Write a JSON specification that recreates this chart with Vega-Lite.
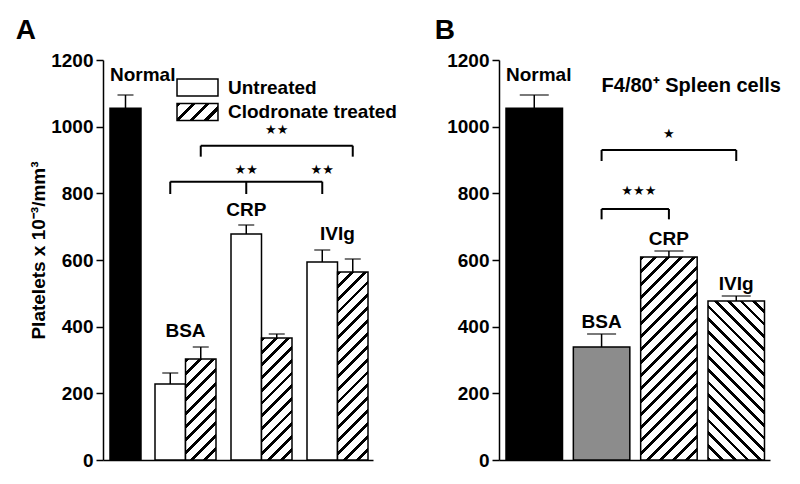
{
  "$schema": "https://vega.github.io/schema/vega-lite/v6.json",
  "padding": {"left": 15, "top": 17, "right": 5, "bottom": 5},
  "bounds": "flush",
  "spacing": 126,
  "config": {
    "view": {"stroke": null},
    "font": "Liberation Sans",
    "axis": {"domainColor": "black", "domainWidth": 1.5, "tickColor": "black", "tickWidth": 1.5, "tickSize": 7, "labelFontSize": 19, "labelFontWeight": "bold", "labelColor": "black", "labelPadding": 3, "grid": false, "titleFontSize": 19, "titleFontWeight": "bold", "titleColor": "black"},
    "legend": {"padding": 0, "symbolType": "M-2.41,-1H2.41V1H-2.41Z", "symbolSize": 289, "symbolStrokeWidth": 1.5, "labelFontSize": 19, "labelFontWeight": "bold", "labelColor": "black", "labelOffset": 21, "labelLimit": 400},
    "title": {"fontSize": 28, "fontWeight": "bold", "color": "black", "anchor": "start", "frame": "bounds"},
    "text": {"color": "black"}
  },
  "datasets": {
    "a": [
      {"group": "Normal", "treatment": "Normal", "value": 1055, "upper": 1095},
      {"group": "BSA", "treatment": "Untreated", "value": 228, "upper": 261},
      {"group": "BSA", "treatment": "Clodronate treated", "value": 303, "upper": 339},
      {"group": "CRP", "treatment": "Untreated", "value": 678, "upper": 705},
      {"group": "CRP", "treatment": "Clodronate treated", "value": 366, "upper": 378},
      {"group": "IVIg", "treatment": "Untreated", "value": 594, "upper": 630},
      {"group": "IVIg", "treatment": "Clodronate treated", "value": 564, "upper": 603}
    ],
    "b": [
      {"group": "Normal", "value": 1055, "upper": 1095},
      {"group": "BSA", "value": 339, "upper": 378},
      {"group": "CRP", "value": 609, "upper": 627},
      {"group": "IVIg", "value": 477, "upper": 492}
    ],
    "aBrackets": [
      {"cmp": "a1", "group": "BSA", "treatment": "Untreated", "level": 835, "foot": 798},
      {"cmp": "a1", "group": "CRP", "treatment": "Untreated", "level": 835, "foot": 798},
      {"cmp": "a1", "group": "IVIg", "treatment": "Untreated", "level": 835, "foot": 798},
      {"cmp": "a2", "group": "BSA", "treatment": "Clodronate treated", "level": 943, "foot": 910},
      {"cmp": "a2", "group": "IVIg", "treatment": "Clodronate treated", "level": 943, "foot": 910}
    ],
    "aStars": [
      {"group": "CRP", "treatment": "Clodronate treated", "stars": "★★", "at": 990},
      {"group": "CRP", "treatment": "Untreated", "stars": "★★", "at": 870},
      {"group": "IVIg", "treatment": "Untreated", "stars": "★★", "at": 870}
    ],
    "bBrackets": [
      {"cmp": "b1", "group": "BSA", "level": 753, "foot": 722},
      {"cmp": "b1", "group": "CRP", "level": 753, "foot": 722},
      {"cmp": "b2", "group": "BSA", "level": 930, "foot": 897},
      {"cmp": "b2", "group": "IVIg", "level": 930, "foot": 897}
    ],
    "bStars": [
      {"group": "CRP", "stars": "★", "at": 978},
      {"group": "BSA", "stars": "★★★", "at": 807}
    ]
  },
  "hconcat": [
    {
      "width": 270, "height": 400,
      "title": {"text": "A", "dx": -14, "offset": 6},
      "resolve": {"scale": {"x": "independent", "xOffset": "independent", "opacity": "independent"}, "legend": {"opacity": "independent"}},
      "layer": [
        {
          "data": {"name": "a"},
          "transform": [{"filter": "datum.group === 'Normal'"}],
          "encoding": {
            "x": {"field": "group", "type": "nominal", "scale": {"domain": ["Normal", "BSA", "CRP", "IVIg"], "paddingInner": 0.5, "paddingOuter": 0.4274, "align": 0.132}, "axis": null}
          },
          "layer": [
            {"mark": {"type": "rule", "color": "black", "strokeWidth": 1.5},
             "encoding": {"y": {"field": "value", "type": "quantitative", "scale": {"domain": [0, 1200], "nice": false}, "axis": {"values": [0, 200, 400, 600, 800, 1000, 1200], "format": "d", "title": "Platelets x 10⁻³/mm³", "titlePadding": 2, "titleY": 190}}, "y2": {"field": "upper"}}},
            {"mark": {"type": "tick", "orient": "horizontal", "size": 16, "thickness": 1.5, "color": "black"},
             "encoding": {"y": {"field": "upper", "type": "quantitative"}}},
            {"mark": {"type": "bar", "fill": "black", "stroke": "black", "strokeWidth": 1.5},
             "encoding": {"y": {"field": "value", "type": "quantitative"}}},
            {"mark": {"type": "text", "align": "left", "baseline": "alphabetic", "dy": -14, "fontSize": 19, "fontWeight": "bold"},
             "encoding": {"x": {"field": "group", "type": "nominal", "bandPosition": 0, "axis": null}, "y": {"field": "upper", "type": "quantitative"}, "text": {"field": "group"}}},
            {"transform": [{"filter": "false"}],
             "mark": {"type": "bar", "stroke": "black", "strokeWidth": 1.5, "fill": {"gradient": "linear", "x1": 0, "y1": 0, "x2": 1.2071, "y2": 0.5005, "stops": [
                   {"offset": 0, "color": "#fff"}, {"offset": 1, "color": "#fff"}]}},
             "encoding": {
               "y": {"field": "value", "type": "quantitative"},
               "opacity": {"field": "treatment", "type": "nominal", "scale": {"domain": ["Untreated"], "range": [1]},
                 "legend": {"orient": "none", "legendX": 85, "legendY": 18, "title": null, "symbolType": "M-2.41,-1H2.41V1H-2.41Z", "symbolSize": 289}}
             }}
          ]
        },
        {
          "data": {"name": "a"},
          "encoding": {"x": {"field": "group", "type": "nominal", "scale": {"domain": ["BSA", "CRP", "IVIg"], "paddingInner": 0.1974, "paddingOuter": 0.375, "align": 0.9123}, "axis": {"title": null, "labels": false, "ticks": false}}},
          "layer": [
            {"transform": [{"filter": "datum.group !== 'Normal'"}],
             "mark": {"type": "rule", "color": "black", "strokeWidth": 1.5},
             "encoding": {"xOffset": {"field": "treatment", "type": "nominal", "scale": {"domain": ["Untreated", "Clodronate treated"], "paddingInner": 0, "paddingOuter": 0}}, "y": {"field": "value", "type": "quantitative"}, "y2": {"field": "upper"}}},
            {"transform": [{"filter": "datum.group !== 'Normal'"}],
             "mark": {"type": "tick", "orient": "horizontal", "size": 16, "thickness": 1.5, "color": "black"},
             "encoding": {"xOffset": {"field": "treatment", "type": "nominal"}, "y": {"field": "upper", "type": "quantitative"}}},
            {"transform": [{"filter": "datum.treatment === 'Untreated'"}],
             "mark": {"type": "bar", "fill": "white", "stroke": "black", "strokeWidth": 1.5},
             "encoding": {"xOffset": {"field": "treatment", "type": "nominal"}, "y": {"field": "value", "type": "quantitative"}}},
            {"transform": [{"filter": "false"}],
             "mark": {"type": "bar", "stroke": "black", "strokeWidth": 1.5, "fill": {"gradient": "linear", "x1": 0, "y1": 0, "x2": 1.2071, "y2": 0.5005, "stops": [
                   {"offset": 0, "color": "#000"}, {"offset": 0.075, "color": "#000"}, {"offset": 0.075, "color": "#fff"}, {"offset": 0.25, "color": "#fff"},
                   {"offset": 0.25, "color": "#000"}, {"offset": 0.325, "color": "#000"}, {"offset": 0.325, "color": "#fff"}, {"offset": 0.5, "color": "#fff"},
                   {"offset": 0.5, "color": "#000"}, {"offset": 0.575, "color": "#000"}, {"offset": 0.575, "color": "#fff"}, {"offset": 0.75, "color": "#fff"},
                   {"offset": 0.75, "color": "#000"}, {"offset": 0.825, "color": "#000"}, {"offset": 0.825, "color": "#fff"}, {"offset": 1, "color": "#fff"}]}},
             "encoding": {
               "xOffset": {"field": "treatment", "type": "nominal"},
               "y": {"field": "value", "type": "quantitative"},
               "opacity": {"field": "treatment", "type": "nominal", "scale": {"domain": ["Clodronate treated"], "range": [1]},
                 "legend": {"orient": "none", "legendX": 85, "legendY": 42.5, "title": null, "symbolType": "M-2.41,-1H2.41V1H-2.41Z", "symbolSize": 289}}
             }},
            {"transform": [{"filter": "datum.group === 'BSA' && datum.treatment === 'Clodronate treated'"}],
             "mark": {"type": "bar", "stroke": "black", "strokeWidth": 1.5, "fill": {"gradient": "linear", "x1": 0, "y1": 0, "x2": 0.3603, "y2": 1.1931, "stops": [
               {"offset": 0, "color": "#000"}, {"offset": 0.03, "color": "#000"}, {"offset": 0.03, "color": "#fff"}, {"offset": 0.1, "color": "#fff"},
               {"offset": 0.1, "color": "#000"}, {"offset": 0.13, "color": "#000"}, {"offset": 0.13, "color": "#fff"}, {"offset": 0.2, "color": "#fff"},
               {"offset": 0.2, "color": "#000"}, {"offset": 0.23, "color": "#000"}, {"offset": 0.23, "color": "#fff"}, {"offset": 0.3, "color": "#fff"},
               {"offset": 0.3, "color": "#000"}, {"offset": 0.33, "color": "#000"}, {"offset": 0.33, "color": "#fff"}, {"offset": 0.4, "color": "#fff"},
               {"offset": 0.4, "color": "#000"}, {"offset": 0.43, "color": "#000"}, {"offset": 0.43, "color": "#fff"}, {"offset": 0.5, "color": "#fff"},
               {"offset": 0.5, "color": "#000"}, {"offset": 0.53, "color": "#000"}, {"offset": 0.53, "color": "#fff"}, {"offset": 0.6, "color": "#fff"},
               {"offset": 0.6, "color": "#000"}, {"offset": 0.63, "color": "#000"}, {"offset": 0.63, "color": "#fff"}, {"offset": 0.7, "color": "#fff"},
               {"offset": 0.7, "color": "#000"}, {"offset": 0.73, "color": "#000"}, {"offset": 0.73, "color": "#fff"}, {"offset": 0.8, "color": "#fff"},
               {"offset": 0.8, "color": "#000"}, {"offset": 0.83, "color": "#000"}, {"offset": 0.83, "color": "#fff"}, {"offset": 0.9, "color": "#fff"},
               {"offset": 0.9, "color": "#000"}, {"offset": 0.93, "color": "#000"}, {"offset": 0.93, "color": "#fff"}, {"offset": 1, "color": "#fff"}]}},
             "encoding": {"xOffset": {"field": "treatment", "type": "nominal"}, "y": {"field": "value", "type": "quantitative"}}},
            {"transform": [{"filter": "datum.group === 'CRP' && datum.treatment === 'Clodronate treated'"}],
             "mark": {"type": "bar", "stroke": "black", "strokeWidth": 1.5, "fill": {"gradient": "linear", "x1": 0, "y1": 0, "x2": 0.2941, "y2": 1.1765, "stops": [
               {"offset": 0, "color": "#000"}, {"offset": 0.025, "color": "#000"}, {"offset": 0.025, "color": "#fff"}, {"offset": 0.0833, "color": "#fff"},
               {"offset": 0.0833, "color": "#000"}, {"offset": 0.1083, "color": "#000"}, {"offset": 0.1083, "color": "#fff"}, {"offset": 0.1667, "color": "#fff"},
               {"offset": 0.1667, "color": "#000"}, {"offset": 0.1917, "color": "#000"}, {"offset": 0.1917, "color": "#fff"}, {"offset": 0.25, "color": "#fff"},
               {"offset": 0.25, "color": "#000"}, {"offset": 0.275, "color": "#000"}, {"offset": 0.275, "color": "#fff"}, {"offset": 0.3333, "color": "#fff"},
               {"offset": 0.3333, "color": "#000"}, {"offset": 0.3583, "color": "#000"}, {"offset": 0.3583, "color": "#fff"}, {"offset": 0.4167, "color": "#fff"},
               {"offset": 0.4167, "color": "#000"}, {"offset": 0.4417, "color": "#000"}, {"offset": 0.4417, "color": "#fff"}, {"offset": 0.5, "color": "#fff"},
               {"offset": 0.5, "color": "#000"}, {"offset": 0.525, "color": "#000"}, {"offset": 0.525, "color": "#fff"}, {"offset": 0.5833, "color": "#fff"},
               {"offset": 0.5833, "color": "#000"}, {"offset": 0.6083, "color": "#000"}, {"offset": 0.6083, "color": "#fff"}, {"offset": 0.6667, "color": "#fff"},
               {"offset": 0.6667, "color": "#000"}, {"offset": 0.6917, "color": "#000"}, {"offset": 0.6917, "color": "#fff"}, {"offset": 0.75, "color": "#fff"},
               {"offset": 0.75, "color": "#000"}, {"offset": 0.775, "color": "#000"}, {"offset": 0.775, "color": "#fff"}, {"offset": 0.8333, "color": "#fff"},
               {"offset": 0.8333, "color": "#000"}, {"offset": 0.8583, "color": "#000"}, {"offset": 0.8583, "color": "#fff"}, {"offset": 0.9167, "color": "#fff"},
               {"offset": 0.9167, "color": "#000"}, {"offset": 0.9417, "color": "#000"}, {"offset": 0.9417, "color": "#fff"}, {"offset": 1, "color": "#fff"}]}},
             "encoding": {"xOffset": {"field": "treatment", "type": "nominal"}, "y": {"field": "value", "type": "quantitative"}}},
            {"transform": [{"filter": "datum.group === 'IVIg' && datum.treatment === 'Clodronate treated'"}],
             "mark": {"type": "bar", "stroke": "black", "strokeWidth": 1.5, "fill": {"gradient": "linear", "x1": 0, "y1": 0, "x2": 0.1837, "y2": 1.1325, "stops": [
               {"offset": 0, "color": "#000"}, {"offset": 0.0176, "color": "#000"}, {"offset": 0.0176, "color": "#fff"}, {"offset": 0.0588, "color": "#fff"},
               {"offset": 0.0588, "color": "#000"}, {"offset": 0.0764, "color": "#000"}, {"offset": 0.0764, "color": "#fff"}, {"offset": 0.1176, "color": "#fff"},
               {"offset": 0.1176, "color": "#000"}, {"offset": 0.1352, "color": "#000"}, {"offset": 0.1352, "color": "#fff"}, {"offset": 0.1765, "color": "#fff"},
               {"offset": 0.1765, "color": "#000"}, {"offset": 0.1941, "color": "#000"}, {"offset": 0.1941, "color": "#fff"}, {"offset": 0.2353, "color": "#fff"},
               {"offset": 0.2353, "color": "#000"}, {"offset": 0.2529, "color": "#000"}, {"offset": 0.2529, "color": "#fff"}, {"offset": 0.2941, "color": "#fff"},
               {"offset": 0.2941, "color": "#000"}, {"offset": 0.3117, "color": "#000"}, {"offset": 0.3117, "color": "#fff"}, {"offset": 0.3529, "color": "#fff"},
               {"offset": 0.3529, "color": "#000"}, {"offset": 0.3705, "color": "#000"}, {"offset": 0.3705, "color": "#fff"}, {"offset": 0.4118, "color": "#fff"},
               {"offset": 0.4118, "color": "#000"}, {"offset": 0.4294, "color": "#000"}, {"offset": 0.4294, "color": "#fff"}, {"offset": 0.4706, "color": "#fff"},
               {"offset": 0.4706, "color": "#000"}, {"offset": 0.4882, "color": "#000"}, {"offset": 0.4882, "color": "#fff"}, {"offset": 0.5294, "color": "#fff"},
               {"offset": 0.5294, "color": "#000"}, {"offset": 0.547, "color": "#000"}, {"offset": 0.547, "color": "#fff"}, {"offset": 0.5882, "color": "#fff"},
               {"offset": 0.5882, "color": "#000"}, {"offset": 0.6058, "color": "#000"}, {"offset": 0.6058, "color": "#fff"}, {"offset": 0.6471, "color": "#fff"},
               {"offset": 0.6471, "color": "#000"}, {"offset": 0.6647, "color": "#000"}, {"offset": 0.6647, "color": "#fff"}, {"offset": 0.7059, "color": "#fff"},
               {"offset": 0.7059, "color": "#000"}, {"offset": 0.7235, "color": "#000"}, {"offset": 0.7235, "color": "#fff"}, {"offset": 0.7647, "color": "#fff"},
               {"offset": 0.7647, "color": "#000"}, {"offset": 0.7823, "color": "#000"}, {"offset": 0.7823, "color": "#fff"}, {"offset": 0.8235, "color": "#fff"},
               {"offset": 0.8235, "color": "#000"}, {"offset": 0.8411, "color": "#000"}, {"offset": 0.8411, "color": "#fff"}, {"offset": 0.8824, "color": "#fff"},
               {"offset": 0.8824, "color": "#000"}, {"offset": 0.9, "color": "#000"}, {"offset": 0.9, "color": "#fff"}, {"offset": 0.9412, "color": "#fff"},
               {"offset": 0.9412, "color": "#000"}, {"offset": 0.9588, "color": "#000"}, {"offset": 0.9588, "color": "#fff"}, {"offset": 1, "color": "#fff"}]}},
             "encoding": {"xOffset": {"field": "treatment", "type": "nominal"}, "y": {"field": "value", "type": "quantitative"}}},
            {"transform": [{"filter": "datum.group === 'BSA' || datum.group === 'IVIg'"}, {"aggregate": [{"op": "max", "field": "upper", "as": "top"}], "groupby": ["group"]}],
             "mark": {"type": "text", "baseline": "alphabetic", "dy": -10, "fontSize": 19, "fontWeight": "bold"},
             "encoding": {"y": {"field": "top", "type": "quantitative"}, "text": {"field": "group"}}},
            {"transform": [{"filter": "datum.group === 'CRP' && datum.treatment === 'Untreated'"}],
             "mark": {"type": "text", "baseline": "alphabetic", "dy": -9, "fontSize": 19, "fontWeight": "bold"},
             "encoding": {"xOffset": {"field": "treatment", "type": "nominal"}, "y": {"field": "upper", "type": "quantitative"}, "text": {"field": "group"}}},
            {"data": {"name": "aBrackets"},
             "mark": {"type": "line", "color": "black", "strokeWidth": 2},
             "encoding": {"xOffset": {"field": "treatment", "type": "nominal"}, "y": {"field": "level", "type": "quantitative"}, "detail": {"field": "cmp"}}},
            {"data": {"name": "aBrackets"},
             "mark": {"type": "rule", "color": "black", "strokeWidth": 2},
             "encoding": {"xOffset": {"field": "treatment", "type": "nominal"}, "y": {"field": "level", "type": "quantitative"}, "y2": {"field": "foot"}}},
            {"data": {"name": "aStars"},
             "mark": {"type": "text", "font": "DejaVu Sans", "fontSize": 13, "baseline": "middle"},
             "encoding": {"xOffset": {"field": "treatment", "type": "nominal"}, "y": {"field": "at", "type": "quantitative"}, "text": {"field": "stars"}}}
          ]
        }
      ]
    },
    {
      "width": 271, "height": 400,
      "title": {"text": "B", "dx": -12, "offset": 6},
      "data": {"name": "b"},
      "encoding": {"x": {"field": "group", "type": "nominal", "scale": {"domain": ["Normal", "BSA", "CRP", "IVIg"], "paddingInner": 0.1609, "paddingOuter": 0.0929, "align": 0.56}, "axis": {"title": null, "labels": false, "ticks": false}}},
      "layer": [
        {"mark": {"type": "rule", "color": "black", "strokeWidth": 1.5},
         "encoding": {"y": {"field": "value", "type": "quantitative", "scale": {"domain": [0, 1200], "nice": false}, "axis": {"values": [0, 200, 400, 600, 800, 1000, 1200], "format": "d", "title": null}}, "y2": {"field": "upper"}}},
        {"mark": {"type": "tick", "orient": "horizontal", "size": 29, "thickness": 1.5, "color": "black"},
         "encoding": {"y": {"field": "upper", "type": "quantitative"}}},
        {"transform": [{"filter": "datum.group === 'Normal' || datum.group === 'BSA'"}],
         "mark": {"type": "bar", "stroke": "black", "strokeWidth": 1.5},
         "encoding": {"y": {"field": "value", "type": "quantitative"}, "fill": {"field": "group", "type": "nominal", "scale": {"domain": ["Normal", "BSA"], "range": ["black", "#8c8c8c"]}, "legend": null}}},
        {"transform": [{"filter": "datum.group === 'CRP'"}],
         "mark": {"type": "bar", "stroke": "black", "strokeWidth": 1.5, "fill": {"gradient": "linear", "x1": 0, "y1": 0, "x2": 0.3302, "y2": 1.1864, "stops": [
           {"offset": 0, "color": "#000"}, {"offset": 0.015, "color": "#000"}, {"offset": 0.015, "color": "#fff"}, {"offset": 0.05, "color": "#fff"},
           {"offset": 0.05, "color": "#000"}, {"offset": 0.065, "color": "#000"}, {"offset": 0.065, "color": "#fff"}, {"offset": 0.1, "color": "#fff"},
           {"offset": 0.1, "color": "#000"}, {"offset": 0.115, "color": "#000"}, {"offset": 0.115, "color": "#fff"}, {"offset": 0.15, "color": "#fff"},
           {"offset": 0.15, "color": "#000"}, {"offset": 0.165, "color": "#000"}, {"offset": 0.165, "color": "#fff"}, {"offset": 0.2, "color": "#fff"},
           {"offset": 0.2, "color": "#000"}, {"offset": 0.215, "color": "#000"}, {"offset": 0.215, "color": "#fff"}, {"offset": 0.25, "color": "#fff"},
           {"offset": 0.25, "color": "#000"}, {"offset": 0.265, "color": "#000"}, {"offset": 0.265, "color": "#fff"}, {"offset": 0.3, "color": "#fff"},
           {"offset": 0.3, "color": "#000"}, {"offset": 0.315, "color": "#000"}, {"offset": 0.315, "color": "#fff"}, {"offset": 0.35, "color": "#fff"},
           {"offset": 0.35, "color": "#000"}, {"offset": 0.365, "color": "#000"}, {"offset": 0.365, "color": "#fff"}, {"offset": 0.4, "color": "#fff"},
           {"offset": 0.4, "color": "#000"}, {"offset": 0.415, "color": "#000"}, {"offset": 0.415, "color": "#fff"}, {"offset": 0.45, "color": "#fff"},
           {"offset": 0.45, "color": "#000"}, {"offset": 0.465, "color": "#000"}, {"offset": 0.465, "color": "#fff"}, {"offset": 0.5, "color": "#fff"},
           {"offset": 0.5, "color": "#000"}, {"offset": 0.515, "color": "#000"}, {"offset": 0.515, "color": "#fff"}, {"offset": 0.55, "color": "#fff"},
           {"offset": 0.55, "color": "#000"}, {"offset": 0.565, "color": "#000"}, {"offset": 0.565, "color": "#fff"}, {"offset": 0.6, "color": "#fff"},
           {"offset": 0.6, "color": "#000"}, {"offset": 0.615, "color": "#000"}, {"offset": 0.615, "color": "#fff"}, {"offset": 0.65, "color": "#fff"},
           {"offset": 0.65, "color": "#000"}, {"offset": 0.665, "color": "#000"}, {"offset": 0.665, "color": "#fff"}, {"offset": 0.7, "color": "#fff"},
           {"offset": 0.7, "color": "#000"}, {"offset": 0.715, "color": "#000"}, {"offset": 0.715, "color": "#fff"}, {"offset": 0.75, "color": "#fff"},
           {"offset": 0.75, "color": "#000"}, {"offset": 0.765, "color": "#000"}, {"offset": 0.765, "color": "#fff"}, {"offset": 0.8, "color": "#fff"},
           {"offset": 0.8, "color": "#000"}, {"offset": 0.815, "color": "#000"}, {"offset": 0.815, "color": "#fff"}, {"offset": 0.85, "color": "#fff"},
           {"offset": 0.85, "color": "#000"}, {"offset": 0.865, "color": "#000"}, {"offset": 0.865, "color": "#fff"}, {"offset": 0.9, "color": "#fff"},
           {"offset": 0.9, "color": "#000"}, {"offset": 0.915, "color": "#000"}, {"offset": 0.915, "color": "#fff"}, {"offset": 0.95, "color": "#fff"},
           {"offset": 0.95, "color": "#000"}, {"offset": 0.965, "color": "#000"}, {"offset": 0.965, "color": "#fff"}, {"offset": 1, "color": "#fff"}]}},
         "encoding": {"y": {"field": "value", "type": "quantitative"}}},
        {"transform": [{"filter": "datum.group === 'IVIg'"}],
         "mark": {"type": "bar", "stroke": "black", "strokeWidth": 1.5, "fill": {"gradient": "linear", "x1": 0, "y1": 1, "x2": 0.4276, "y2": -0.2034, "stops": [
           {"offset": 0, "color": "#000"}, {"offset": 0.0176, "color": "#000"}, {"offset": 0.0176, "color": "#fff"}, {"offset": 0.0588, "color": "#fff"},
           {"offset": 0.0588, "color": "#000"}, {"offset": 0.0764, "color": "#000"}, {"offset": 0.0764, "color": "#fff"}, {"offset": 0.1176, "color": "#fff"},
           {"offset": 0.1176, "color": "#000"}, {"offset": 0.1352, "color": "#000"}, {"offset": 0.1352, "color": "#fff"}, {"offset": 0.1765, "color": "#fff"},
           {"offset": 0.1765, "color": "#000"}, {"offset": 0.1941, "color": "#000"}, {"offset": 0.1941, "color": "#fff"}, {"offset": 0.2353, "color": "#fff"},
           {"offset": 0.2353, "color": "#000"}, {"offset": 0.2529, "color": "#000"}, {"offset": 0.2529, "color": "#fff"}, {"offset": 0.2941, "color": "#fff"},
           {"offset": 0.2941, "color": "#000"}, {"offset": 0.3117, "color": "#000"}, {"offset": 0.3117, "color": "#fff"}, {"offset": 0.3529, "color": "#fff"},
           {"offset": 0.3529, "color": "#000"}, {"offset": 0.3705, "color": "#000"}, {"offset": 0.3705, "color": "#fff"}, {"offset": 0.4118, "color": "#fff"},
           {"offset": 0.4118, "color": "#000"}, {"offset": 0.4294, "color": "#000"}, {"offset": 0.4294, "color": "#fff"}, {"offset": 0.4706, "color": "#fff"},
           {"offset": 0.4706, "color": "#000"}, {"offset": 0.4882, "color": "#000"}, {"offset": 0.4882, "color": "#fff"}, {"offset": 0.5294, "color": "#fff"},
           {"offset": 0.5294, "color": "#000"}, {"offset": 0.547, "color": "#000"}, {"offset": 0.547, "color": "#fff"}, {"offset": 0.5882, "color": "#fff"},
           {"offset": 0.5882, "color": "#000"}, {"offset": 0.6058, "color": "#000"}, {"offset": 0.6058, "color": "#fff"}, {"offset": 0.6471, "color": "#fff"},
           {"offset": 0.6471, "color": "#000"}, {"offset": 0.6647, "color": "#000"}, {"offset": 0.6647, "color": "#fff"}, {"offset": 0.7059, "color": "#fff"},
           {"offset": 0.7059, "color": "#000"}, {"offset": 0.7235, "color": "#000"}, {"offset": 0.7235, "color": "#fff"}, {"offset": 0.7647, "color": "#fff"},
           {"offset": 0.7647, "color": "#000"}, {"offset": 0.7823, "color": "#000"}, {"offset": 0.7823, "color": "#fff"}, {"offset": 0.8235, "color": "#fff"},
           {"offset": 0.8235, "color": "#000"}, {"offset": 0.8411, "color": "#000"}, {"offset": 0.8411, "color": "#fff"}, {"offset": 0.8824, "color": "#fff"},
           {"offset": 0.8824, "color": "#000"}, {"offset": 0.9, "color": "#000"}, {"offset": 0.9, "color": "#fff"}, {"offset": 0.9412, "color": "#fff"},
           {"offset": 0.9412, "color": "#000"}, {"offset": 0.9588, "color": "#000"}, {"offset": 0.9588, "color": "#fff"}, {"offset": 1, "color": "#fff"}]}},
         "encoding": {"y": {"field": "value", "type": "quantitative"}}},
        {"transform": [{"filter": "datum.group !== 'Normal'"}],
         "mark": {"type": "text", "baseline": "alphabetic", "dy": -6, "fontSize": 19, "fontWeight": "bold"},
         "encoding": {"y": {"field": "upper", "type": "quantitative"}, "text": {"field": "group"}}},
        {"transform": [{"filter": "datum.group === 'Normal'"}],
         "mark": {"type": "text", "align": "left", "baseline": "alphabetic", "dy": -14, "fontSize": 19, "fontWeight": "bold"},
         "encoding": {"x": {"field": "group", "type": "nominal", "bandPosition": 0}, "y": {"field": "upper", "type": "quantitative"}, "text": {"field": "group"}}},
        {"data": {"name": "bBrackets"},
         "mark": {"type": "line", "color": "black", "strokeWidth": 2},
         "encoding": {"y": {"field": "level", "type": "quantitative"}, "detail": {"field": "cmp"}}},
        {"data": {"name": "bBrackets"},
         "mark": {"type": "rule", "color": "black", "strokeWidth": 2},
         "encoding": {"y": {"field": "level", "type": "quantitative"}, "y2": {"field": "foot"}}},
        {"data": {"name": "bStars"},
         "transform": [{"filter": "datum.group === 'CRP'"}],
         "mark": {"type": "text", "font": "DejaVu Sans", "fontSize": 13, "baseline": "middle"},
         "encoding": {"y": {"field": "at", "type": "quantitative"}, "text": {"field": "stars"}}},
        {"data": {"name": "bStars"},
         "transform": [{"filter": "datum.group === 'BSA'"}],
         "mark": {"type": "text", "font": "DejaVu Sans", "fontSize": 13, "baseline": "middle", "dx": 9},
         "encoding": {"x": {"field": "group", "type": "nominal", "bandPosition": 1}, "y": {"field": "at", "type": "quantitative"}, "text": {"field": "stars"}}},
        {"data": {"values": [{"note": "F4/80⁺ Spleen cells"}]},
         "mark": {"type": "text", "align": "left", "baseline": "alphabetic", "fontSize": 20, "fontWeight": "bold"},
         "encoding": {"x": {"datum": "BSA"}, "y": {"datum": 1105}, "text": {"field": "note"}}}
      ]
    }
  ]
}
